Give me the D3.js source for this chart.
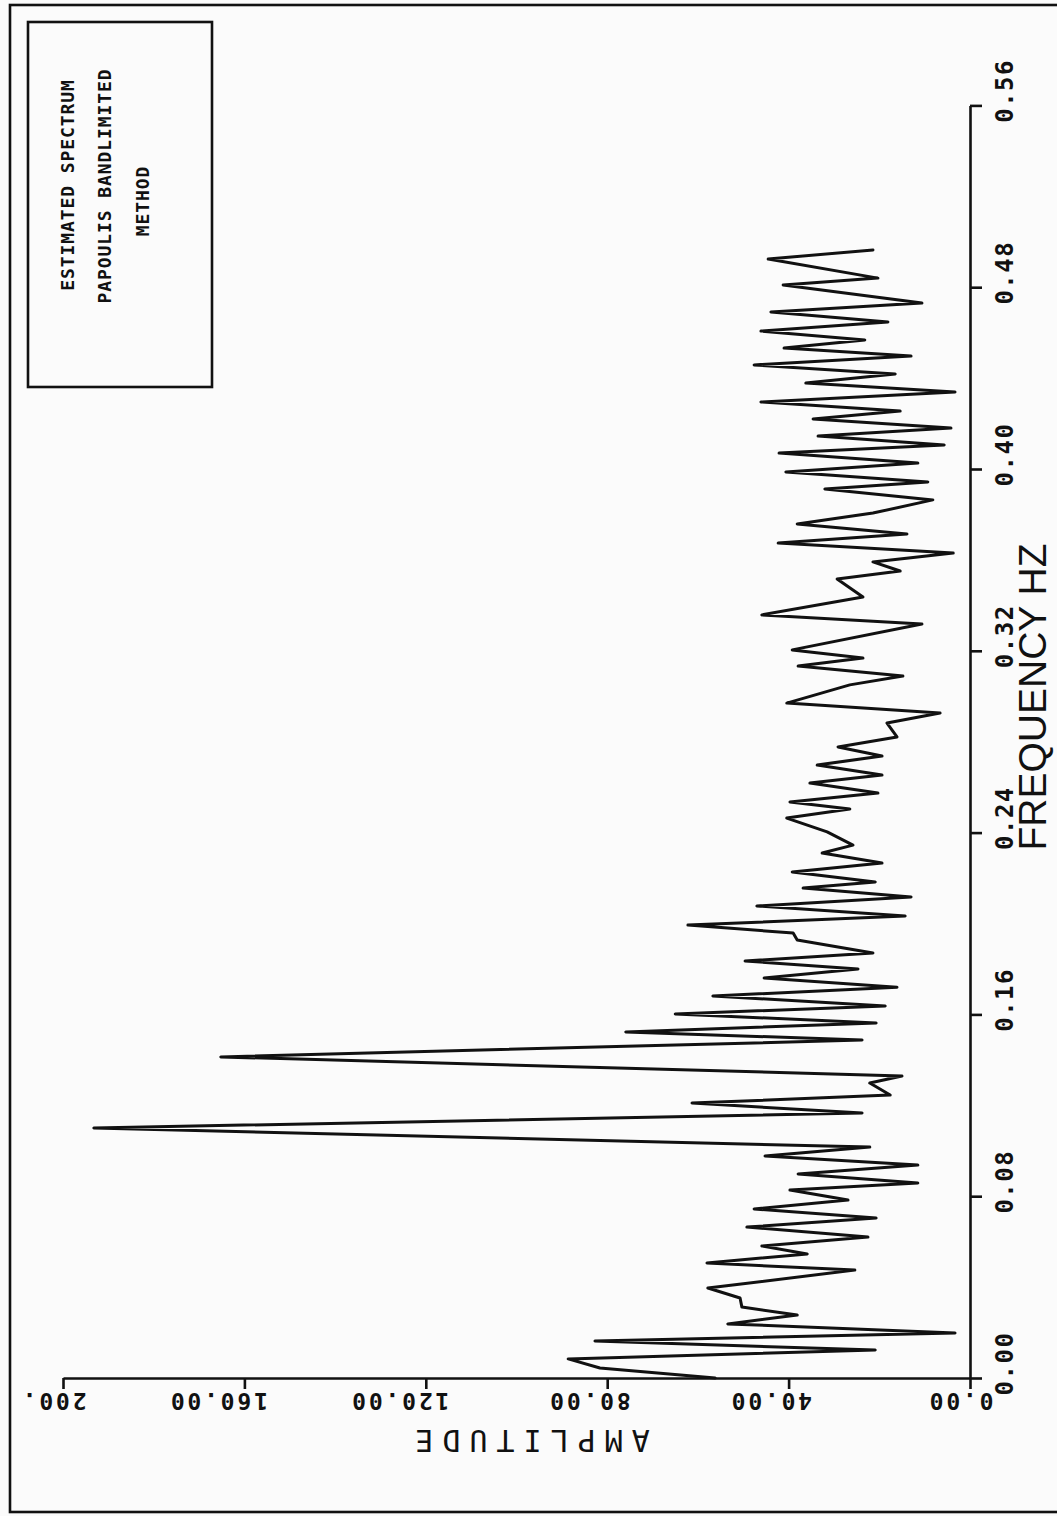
<!DOCTYPE html>
<html>
<head>
<meta charset="utf-8">
<script src="https://cdn.jsdelivr.net/npm/d3@7"></script>
<style>
  html, body { margin: 0; padding: 0; background: #fbfbfb; }
  svg { display: block; }
</style>
</head>
<body>
<script>
// ---- data ----
const freqTicks = [0, 0.08, 0.16, 0.24, 0.32, 0.40, 0.48, 0.56];
const freqTickLabels = ["0.00", "0.08", "0.16", "0.24", "0.32", "0.40", "0.48", "0.56"];
const ampTicks = [0, 40, 80, 120, 160, 200];
const ampTickLabels = ["0.00", "40.00", "80.00", "120.00", "160.00", "200."];
const legendLines = ["ESTIMATED SPECTRUM", "PAPOULIS BANDLIMITED", "METHOD"];
const xTitle = "FREQUENCY HZ";
const yTitle = "AMPLITUDE";

const frequency = [
  0.0000, 0.0044, 0.0084, 0.0123, 0.0163, 0.0198, 0.0238, 0.0277, 0.0312, 0.0352,
  0.0396, 0.0475, 0.0506, 0.0546, 0.0581, 0.0620, 0.0664, 0.0704, 0.0744, 0.0783,
  0.0827, 0.0858, 0.0898, 0.0937, 0.0977, 0.1016, 0.1100, 0.1166, 0.1210, 0.1245,
  0.1298, 0.1329, 0.1413, 0.1487, 0.1523, 0.1562, 0.1602, 0.1637, 0.1681, 0.1720,
  0.1760, 0.1800, 0.1835, 0.1870, 0.1927, 0.1958, 0.1993, 0.2033, 0.2077, 0.2117,
  0.2156, 0.2183, 0.2227, 0.2266, 0.2310, 0.2345, 0.2403, 0.2464, 0.2504, 0.2535,
  0.2574, 0.2618, 0.2653, 0.2697, 0.2737, 0.2777, 0.2821, 0.2882, 0.2926, 0.2970,
  0.3050, 0.3089, 0.3133, 0.3168, 0.3204, 0.3318, 0.3358, 0.3437, 0.3516, 0.3551,
  0.3591, 0.3630, 0.3674, 0.3714, 0.3758, 0.3806, 0.3864, 0.3912, 0.3943, 0.3987,
  0.4026, 0.4070, 0.4106, 0.4145, 0.4180, 0.4220, 0.4255, 0.4295, 0.4339, 0.4378,
  0.4418, 0.4458, 0.4497, 0.4532, 0.4568, 0.4607, 0.4647, 0.4691, 0.4730, 0.4810,
  0.4840, 0.4924, 0.4964
];
const amplitude = [
  56.2, 81.6, 88.6, 20.9, 82.7, 3.3, 53.4, 38.1, 50.3, 50.7,
  57.8, 25.4, 58.0, 35.9, 45.9, 22.5, 49.2, 20.7, 47.6, 26.9,
  39.7, 11.5, 37.9, 11.5, 45.2, 22.1, 193.2, 23.8, 61.3, 17.6,
  22.1, 15.0, 165.2, 23.8, 75.9, 20.7, 65.0, 18.7, 56.7, 16.1,
  45.4, 24.7, 49.6, 21.4, 38.1, 39.0, 62.2, 14.3, 47.0, 13.0,
  36.8, 20.9, 39.2, 19.4, 32.6, 25.8, 31.5, 40.4, 26.5, 39.7,
  20.3, 35.3, 19.4, 33.7, 19.4, 29.1, 16.1, 18.3, 6.6, 40.4,
  26.5, 14.8, 37.9, 23.6, 39.2, 10.6, 45.9, 23.6, 29.3, 15.4,
  21.4, 3.7, 42.3, 13.9, 38.1, 21.4, 8.2, 32.0, 9.3, 40.6,
  11.5, 42.1, 5.7, 33.5, 4.2, 34.6, 15.4, 46.1, 3.3, 36.2,
  16.5, 47.6, 13.0, 41.0, 23.2, 46.1, 18.1, 43.9, 10.6, 41.2,
  20.3, 44.5, 21.4
];

// ---- drawing ----
const W = 1057, H = 1516;
const svg = d3.select("body").append("svg").attr("width", W).attr("height", H);
svg.append("rect").attr("width", W).attr("height", H).attr("fill", "#fbfbfb");

// page frame
svg.append("rect").attr("x", 10).attr("y", 5).attr("width", 1070).attr("height", 1507)
  .attr("fill", "none").attr("stroke", "#111").attr("stroke-width", 2.6);

// scales: chart is rotated — frequency runs upward, amplitude runs leftward
const yF = d3.scaleLinear().domain([0, 0.56]).range([1378, 105.4]);
const xA = d3.scaleLinear().domain([0, 200]).range([970, 63]);

const monoFont = "'DejaVu Sans Mono', 'Liberation Mono', monospace";

// frequency axis (vertical, right)
const gF = svg.append("g").attr("transform", "translate(970,0)")
  .call(d3.axisRight(yF).tickValues(freqTicks).tickSize(12).tickSizeOuter(0)
    .tickFormat((d, i) => freqTickLabels[i]));
gF.selectAll("path, line").attr("stroke", "#111").attr("stroke-width", 2.6);
gF.selectAll("text")
  .attr("x", 0).attr("y", 0).attr("dy", null)
  .attr("transform", "translate(43,-15) rotate(-90)")
  .attr("text-anchor", "middle")
  .attr("fill", "#111")
  .style("font-family", monoFont).style("font-weight", "bold")
  .style("font-size", "24px").style("letter-spacing", "1.5px");

// amplitude axis (horizontal, bottom) — labels upside down
const gA = svg.append("g").attr("transform", "translate(0,1378)")
  .call(d3.axisBottom(xA).tickValues(ampTicks).tickSize(11).tickSizeOuter(0)
    .tickFormat((d, i) => ampTickLabels[i]));
gA.selectAll("path, line").attr("stroke", "#111").attr("stroke-width", 2.6);
gA.selectAll("text")
  .attr("x", 0).attr("y", 0).attr("dy", null)
  .attr("transform", "translate(23,15) rotate(180)")
  .attr("text-anchor", "start")
  .attr("fill", "#111")
  .style("font-family", monoFont).style("font-weight", "bold")
  .style("font-size", "23px").style("letter-spacing", "2.8px");

// axis titles
svg.append("text")
  .attr("transform", "translate(528,1430) rotate(180)")
  .attr("text-anchor", "middle")
  .attr("fill", "#111")
  .style("font-family", monoFont).style("font-size", "30px").style("letter-spacing", "9px")
  .text(yTitle);

svg.append("text")
  .attr("transform", "translate(1046,697) rotate(-90)")
  .attr("text-anchor", "middle")
  .attr("fill", "#111")
  .style("font-family", "'Liberation Sans', Arial, sans-serif").style("font-size", "39px")
  .text(xTitle);

// spectrum trace
const pts = frequency.map((f, i) => ({ f, a: amplitude[i] }));
svg.append("path").datum(pts)
  .attr("d", d3.line().x(d => xA(d.a)).y(d => yF(d.f)))
  .attr("fill", "none").attr("stroke", "#111").attr("stroke-width", 3)
  .attr("stroke-linejoin", "round").attr("stroke-linecap", "round");

// legend box
svg.append("rect").attr("x", 28).attr("y", 22).attr("width", 184).attr("height", 365)
  .attr("fill", "none").attr("stroke", "#111").attr("stroke-width", 2.6);
const legendPos = [[74, 185], [111, 186], [149, 201]];
legendLines.forEach((t, i) => {
  svg.append("text")
    .attr("transform", `translate(${legendPos[i][0]},${legendPos[i][1]}) rotate(-90)`)
    .attr("text-anchor", "middle")
    .attr("fill", "#111")
    .style("font-family", monoFont).style("font-weight", "bold")
    .style("font-size", "18px").style("letter-spacing", "0.9px")
    .text(t);
});
</script>
</body>
</html>
